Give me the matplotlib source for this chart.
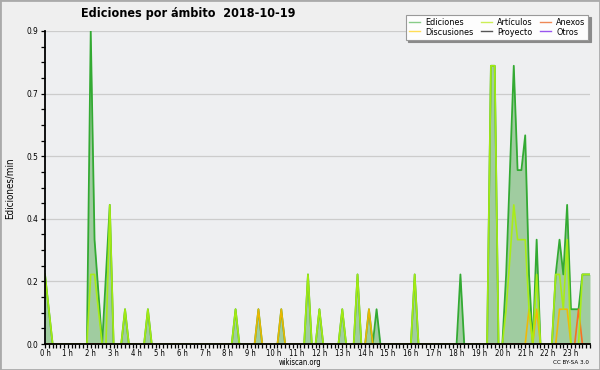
import numpy as np
import matplotlib
matplotlib.use('Agg')
import matplotlib.pyplot as plt
from matplotlib import font_manager
from matplotlib.lines import Line2D
from matplotlib.patches import Rectangle
from matplotlib.ticker import MultipleLocator, FormatStrFormatter, FixedLocator

# #
# Data: edits per minute, 10-minute slots (only non-empty slots listed)
ediciones_t = ['00:00', '00:10', '02:00', '02:10', '02:20', '02:40', '02:50', '03:30', '04:30',
               '08:20', '09:20', '10:20', '11:30', '12:00', '13:00', '13:40', '14:10', '14:30',
               '16:10', '18:10', '19:30', '19:40', '20:10', '20:20', '20:30', '20:40', '20:50',
               '21:00', '21:10', '21:30', '22:20', '22:30', '22:40', '22:50', '23:00', '23:10',
               '23:20', '23:30', '23:40', '23:50']
ediciones_v = [0.2, 0.1, 0.9, 0.3, 0.15, 0.2, 0.4, 0.1, 0.1,
               0.1, 0.1, 0.1, 0.2, 0.1, 0.1, 0.2, 0.1, 0.1,
               0.2, 0.2, 0.8, 0.8, 0.2, 0.5, 0.8, 0.5, 0.5,
               0.6, 0.2, 0.3, 0.2, 0.3, 0.2, 0.4, 0.1, 0.1,
               0.1, 0.2, 0.2, 0.2]

articulos_t = ['00:00', '00:10', '02:00', '02:10', '02:20', '02:50', '03:30', '04:30', '08:20',
               '11:30', '12:00', '13:00', '13:40', '16:10', '19:30', '19:40', '20:10', '20:20',
               '20:30', '20:40', '20:50', '21:00', '21:10', '21:30', '22:20', '22:30', '22:40',
               '22:50', '23:30', '23:40', '23:50']
articulos_v = [0.2, 0.1, 0.2, 0.2, 0.1, 0.4, 0.1, 0.1, 0.1,
               0.2, 0.1, 0.1, 0.2, 0.2, 0.8, 0.8, 0.1, 0.25,
               0.4, 0.3, 0.3, 0.3, 0.1, 0.2, 0.2, 0.2, 0.1,
               0.3, 0.2, 0.2, 0.2]

discusiones_t = ['09:20', '10:20', '14:10', '21:10', '21:30', '22:30', '22:40', '22:50']
discusiones_v = [0.1, 0.1, 0.1, 0.1, 0.1, 0.1, 0.1, 0.1]

anexos_t = ['23:20']
anexos_v = [0.1]

proyecto_t, proyecto_v = [], []
otros_t, otros_v = [], []

hour_labels = ['%d h' % h for h in range(24)]
title = 'Ediciones por ámbito  2018-10-19'


def to_series(times, values):
    s = np.zeros(144)
    for t, v in zip(times, values):
        hh, mm = t.split(':')
        s[int(hh) * 6 + int(mm) // 10] = v
    return s


# #
# fonts: a narrow face if there is one
names = {f.name for f in font_manager.fontManager.ttflist}
family = 'DejaVu Sans'
for cand in ['Liberation Sans Narrow', 'DejaVu Sans Condensed']:
    if cand in names:
        family = cand
        break
plt.rcParams['font.family'] = [family, 'DejaVu Sans']
plt.rcParams['font.stretch'] = 'condensed'

x = np.arange(144) / 6.0
ed = to_series(ediciones_t, ediciones_v)
series = [
    (to_series(proyecto_t, proyecto_v), '#555555'),
    (to_series(otros_t, otros_v), '#9944ee'),
    (to_series(discusiones_t, discusiones_v), '#f5b800'),
    (to_series(anexos_t, anexos_v), '#ff6a1a'),
    (to_series(articulos_t, articulos_v), '#aaee11'),
]

fig = plt.figure(figsize=(6, 3.7), dpi=100, facecolor='#efefef')
ax = fig.add_axes([45 / 600, 26 / 370, 545 / 600, 313 / 370])
ax.set_facecolor('#eeeff1')

ax.fill_between(x, 0, ed, color='#a0cca0', lw=0, zorder=1)
ax.plot(x, ed, color='#33aa33', lw=1.3, zorder=2)
for s, c in series:
    ax.plot(x, s, color=c, lw=1.2, zorder=2, alpha=0.95)

ax.set_xlim(0, 143 / 6.0)
ax.set_ylim(0, 0.9)

ax.yaxis.set_major_locator(FixedLocator(np.linspace(0, 0.9, 6)))
ax.yaxis.set_major_formatter(FormatStrFormatter('%.1f'))
ax.yaxis.set_minor_locator(MultipleLocator(0.045))
ax.xaxis.set_major_locator(FixedLocator(range(24)))
ax.set_xticklabels(hour_labels)
ax.xaxis.set_minor_locator(MultipleLocator(1 / 6.0))
ax.tick_params(which='both', direction='out', length=3, width=0.9, color='black')
ax.tick_params(axis='x', labelsize=5.5, pad=0.5)
ax.tick_params(axis='y', labelsize=6, pad=2)

ax.grid(axis='y', which='major', color='#cccccc', lw=0.9)
ax.set_axisbelow(True)
for side in ['top', 'right']:
    ax.spines[side].set_visible(False)
for side in ['left', 'bottom']:
    ax.spines[side].set_linewidth(1.3)
    ax.spines[side].set_zorder(3)

# #
# texts
fig.text(188 / 600, 1 - 14 / 370, title, ha='center', va='center', fontsize=9, weight='bold')
fig.text(10 / 600, 1 - 188 / 370, 'Ediciones/min', rotation=90, ha='center', va='center', fontsize=7)
fig.text(0.5, 1 - 362.5 / 370, 'wikiscan.org', ha='center', va='center', fontsize=5.5)
fig.text(589 / 600, 1 - 362.5 / 370, 'CC BY-SA 3.0', ha='right', va='center', fontsize=4.5)

# #
# legend
legend_elements = [
    Line2D([0], [0], color='#88cc88', lw=1, label='Ediciones'),
    Line2D([0], [0], color='#ffdd55', lw=1, label='Discusiones'),
    Line2D([0], [0], color='#ccee55', lw=1, label='Artículos'),
    Line2D([0], [0], color='#555555', lw=1, label='Proyecto'),
    Line2D([0], [0], color='#ee8855', lw=1, label='Anexos'),
    Line2D([0], [0], color='#9955ee', lw=1, label='Otros'),
]
leg = fig.legend(handles=legend_elements, ncol=3, loc='upper right',
                 bbox_to_anchor=(593 / 600, 1 - 10 / 370), fontsize=6.5,
                 handlelength=1.2, handletextpad=0.6, columnspacing=0.8,
                 labelspacing=0.1, borderpad=0.35, fancybox=False,
                 shadow={'color': '#8a8a8a', 'alpha': 1, 'ox': 1.5, 'oy': -1.5})
leg.get_frame().set_facecolor('#fdfdfd')
leg.get_frame().set_edgecolor('#999999')
leg.get_frame().set_linewidth(0.8)
leg.get_frame().set_alpha(1)

# border round the whole picture
fig.patches.append(Rectangle((0, 0), 1, 1, transform=fig.transFigure, fill=False,
                             edgecolor='#aaaaaa', lw=2))

plt.savefig('out.png', dpi=100, facecolor=fig.get_facecolor())
